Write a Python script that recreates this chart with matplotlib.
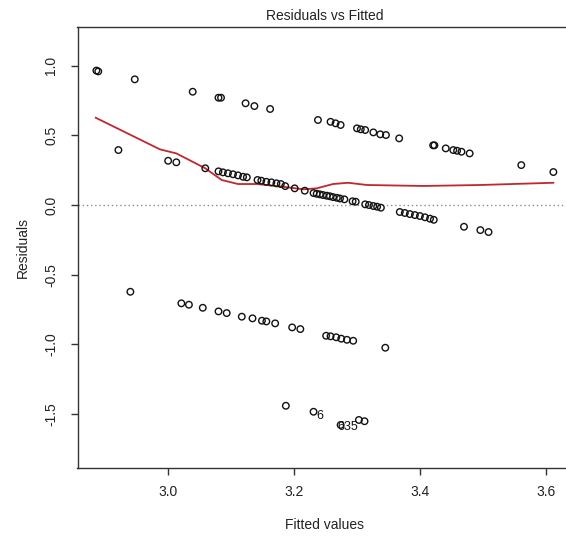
import numpy as np
import matplotlib
matplotlib.use("Agg")
import matplotlib.pyplot as plt

# 拟合值 (Fitted values) 与残差 (Residuals)，按图中读数估计
fitted = np.array([
    # 上方一带
    2.886, 2.889, 2.947, 3.039, 3.080, 3.084, 3.123, 3.137, 3.162,
    3.238, 3.258, 3.266, 3.274, 3.300, 3.306, 3.313, 3.326, 3.337, 3.346,
    3.367, 3.421, 3.423, 3.441, 3.453, 3.459, 3.466, 3.479, 3.561, 3.612,
    # 中间一带
    2.921, 3.000, 3.013, 3.059, 3.080, 3.087, 3.095, 3.103, 3.111, 3.119, 3.125,
    3.142, 3.148, 3.156, 3.164, 3.172, 3.179, 3.186, 3.201, 3.217,
    3.231, 3.236, 3.241, 3.246, 3.252, 3.257, 3.262, 3.268, 3.273, 3.280,
    3.293, 3.298, 3.313, 3.319, 3.326, 3.332, 3.338,
    3.368, 3.376, 3.384, 3.392, 3.400, 3.408, 3.416, 3.422,
    3.470, 3.496, 3.509,
    # 下方一带
    2.940, 3.021, 3.033, 3.055, 3.080, 3.093, 3.117, 3.134, 3.149, 3.156, 3.170,
    3.197, 3.210, 3.251, 3.258, 3.267, 3.275, 3.284, 3.294, 3.345,
    # 最下方的几个点
    3.187, 3.231, 3.274, 3.303, 3.312,
])
residuals = np.array([
    0.966, 0.960, 0.903, 0.814, 0.771, 0.771, 0.731, 0.711, 0.690,
    0.611, 0.598, 0.587, 0.575, 0.551, 0.544, 0.539, 0.522, 0.508, 0.503,
    0.479, 0.429, 0.429, 0.407, 0.395, 0.390, 0.383, 0.371, 0.287, 0.237,
    0.395, 0.318, 0.307, 0.264, 0.242, 0.235, 0.228, 0.221, 0.213, 0.203, 0.199,
    0.180, 0.175, 0.167, 0.163, 0.156, 0.151, 0.136, 0.120, 0.103,
    0.086, 0.081, 0.077, 0.072, 0.067, 0.063, 0.057, 0.052, 0.047, 0.041,
    0.027, 0.024, 0.005, 0.000, -0.007, -0.012, -0.019,
    -0.050, -0.057, -0.065, -0.072, -0.079, -0.088, -0.098, -0.106,
    -0.156, -0.180, -0.194,
    -0.623, -0.706, -0.716, -0.738, -0.764, -0.776, -0.802, -0.814, -0.831, -0.836, -0.850,
    -0.879, -0.891, -0.939, -0.943, -0.950, -0.960, -0.968, -0.975, -1.025,
    -1.442, -1.485, -1.580, -1.544, -1.553,
])

# 平滑曲线 (红线)
smooth_x = [2.885, 2.987, 3.013, 3.059, 3.085, 3.111, 3.141, 3.183, 3.215,
            3.236, 3.262, 3.286, 3.316, 3.405, 3.496, 3.612]
smooth_y = [0.627, 0.400, 0.371, 0.264, 0.180, 0.151, 0.151, 0.131, 0.113,
            0.120, 0.151, 0.160, 0.144, 0.137, 0.144, 0.160]

# 被标注的点
label_texts = ["6", "635"]
label_x = [3.241, 3.285]
label_y = [-1.515, -1.592]

xticks = [3.0, 3.2, 3.4, 3.6]
yticks = [-1.5, -1.0, -0.5, 0.0, 0.5, 1.0]


def main():
    plt.rcParams['font.family'] = ['Liberation Sans', 'DejaVu Sans']

    W, H = 566, 537
    fig = plt.figure(figsize=(W / 100, H / 100), dpi=100)
    # 坐标区：右边框在图片外
    left, right, top, bottom = 77.5, 571, 27, 468
    ax = fig.add_axes([left / W, (H - bottom) / H, (right - left) / W, (bottom - top) / H])

    ax.axhline(0, color='#8c8c8c', linewidth=1, linestyle=(0, (1, 2)), zorder=1)
    ax.scatter(fitted, residuals, s=22, facecolors='none', edgecolors='#111111',
               linewidths=1.0, zorder=3)
    ax.plot(smooth_x, smooth_y, color='#c0282d', linewidth=1.3, zorder=2)

    for t, x, y in zip(label_texts, label_x, label_y):
        ax.text(x, y, t, fontsize=9, ha='center', va='center', color='#111111', zorder=4)

    ax.set_xlim(2.856, 3.640)
    ax.set_ylim(-1.889, 1.279)
    ax.set_xticks(xticks)
    ax.set_xticklabels([f"{v:.1f}" for v in xticks])
    ax.set_yticks(yticks)
    ax.set_yticklabels([f"{v:.1f}" for v in yticks], rotation=90, va='center')

    ax.tick_params(direction='out', length=5, width=1, colors='#333333',
                   labelsize=10, labelcolor='#222222', pad=7)
    ax.tick_params(axis='y', pad=9)
    for side in ['left', 'bottom', 'top', 'right']:
        ax.spines[side].set_color('#333333')
        ax.spines[side].set_linewidth(1)

    ax.set_title('Residuals vs Fitted', fontsize=10, color='#222222', pad=5)
    ax.set_xlabel('Fitted values', fontsize=10, color='#222222', labelpad=14)
    ax.set_ylabel('Residuals', fontsize=10, color='#222222', labelpad=10)

    fig.savefig('out.png', dpi=100)
    plt.close(fig)


if __name__ == "__main__":
    main()
